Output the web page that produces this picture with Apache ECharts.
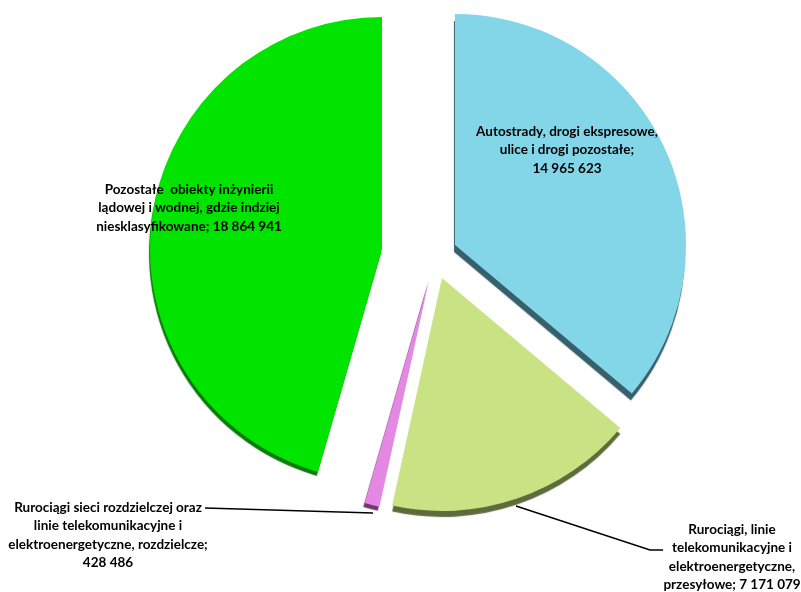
<!DOCTYPE html>
<html><head><meta charset="utf-8">
<style>html,body{margin:0;padding:0;background:#fff}#c{width:801px;height:592px}</style>
<script src="https://cdn.jsdelivr.net/npm/echarts@6/dist/echarts.min.js"></script>
</head><body><div id="c"></div>
<script>
const categories = ["Autostrady, drogi ekspresowe, ulice i drogi pozostałe","Rurociągi, linie telekomunikacyjne i elektroenergetyczne, przesyłowe","Rurociągi sieci rozdzielczej oraz linie telekomunikacyjne i elektroenergetyczne, rozdzielcze","Pozostałe obiekty inżynierii lądowej i wodnej, gdzie indziej niesklasyfikowane"];
const values = [14965623, 7171079, 428486, 18864941];
const labels = [
 "Autostrady, drogi ekspresowe,\nulice i drogi pozostałe;\n14 965 623",
 "Rurociągi, linie\ntelekomunikacyjne i\nelektroenergetyczne,\nprzesyłowe; 7 171 079",
 "Rurociągi sieci rozdzielczej oraz\nlinie telekomunikacyjne i\nelektroenergetyczne, rozdzielcze;\n428 486",
 "Pozostałe  obiekty inżynierii\nlądowej i wodnej, gdzie indziej\nniesklasyfikowane; 18 864 941"
];
const colors = ["#82D6E8","#C9E384","#E588E3","#00E400"];
const rimColors = ["#36606C","#5E6B3C","#6E3A6C","#0A7A0A"];
const rimOffsets = [[-1,7],[0,6],[-1.5,4],[-1,4]];
const centers = [[455,245],[442,278],[429,280],[382,249]];
const radii = [231,233,232,232];
const labelPos = [[567,150],[732,557],[108,535],[189,208]];
const leaders = [null,[[516,506],[650,550],[663,550]],[[373,513],[205,508]],null];

const series = values.map((_, k) => ({
  type:'pie', center:centers[k], radius:[0,radii[k]], startAngle:90, clockwise:true,
  silent:true, animation:false, avoidLabelOverlap:false, minAngle:0, minShowLabelAngle:0,
  z: k===3?3:2,
  emphasis:{disabled:true},
  label:{position:'outside',formatter:()=>labels[k],fontFamily:'Lato',fontWeight:'bold',fontSize:13.5,lineHeight:18.5,color:'#000',align:'center'},
  labelLine:{show:true,lineStyle:{color:'#000',width:1.5},length:10,length2:10},
  labelLayout:()=>{
    const o={x:labelPos[k][0],y:labelPos[k][1],align:'center',verticalAlign:'middle'};
    if(leaders[k]) o.labelLinePoints=leaders[k];
    return o;
  },
  data:values.map((v,i)=>({
    value:v,name:categories[i],
    itemStyle:i===k?{color:colors[k],shadowColor:rimColors[k],shadowBlur:1,shadowOffsetX:rimOffsets[k][0],shadowOffsetY:rimOffsets[k][1]}:{color:'transparent'},
    label:{show:i===k},
    labelLine:{show:i===k&&!!leaders[k]}
  }))
}));
const chart = echarts.init(document.getElementById('c'),null,{renderer:'canvas'});
chart.setOption({backgroundColor:'#fff',animation:false,series});
</script></body></html>
